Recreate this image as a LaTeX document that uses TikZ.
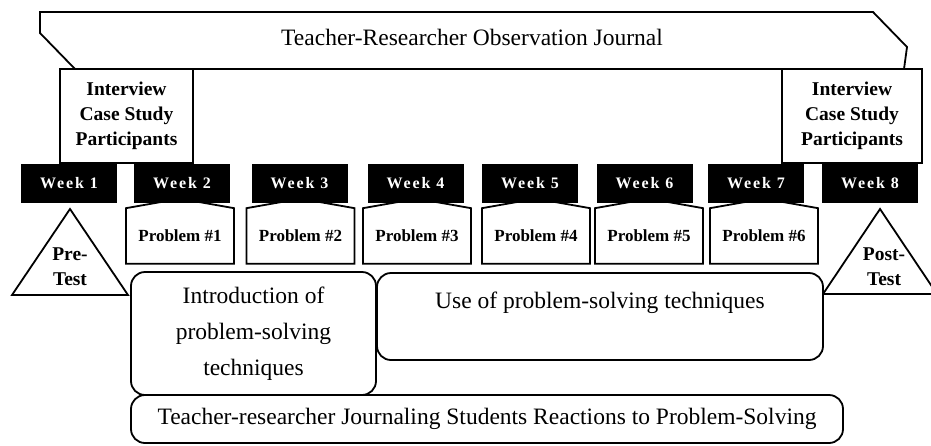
\documentclass[tikz,border=0pt]{standalone}
\usepackage{fontspec}
\setmainfont{Liberation Serif}
\usepackage{tikz}
\usetikzlibrary{shapes.symbols,shapes.geometric}
\newcommand{\bigtxt}{\fontsize{23.5}{36}\selectfont}
\newcommand{\boldtxt}{\fontsize{19.5}{25}\selectfont\bfseries}

\begin{document}
\begin{tikzpicture}[x=1pt,y=-1pt,line width=1.8pt,
		weekbox/.style={fill=black,text=white,minimum width=96,minimum height=39,inner sep=0pt,
			font=\fontsize{16}{18}\selectfont\bfseries\addfontfeature{LetterSpace=12}},
		probbox/.style={draw,signal,signal to=north,signal pointer angle=160,minimum width=108,
			minimum height=63,inner sep=0pt,font=\fontsize{17}{20}\selectfont\bfseries},
		infobox/.style={draw,fill=white,minimum height=94,inner sep=0pt,align=center,font=\boldtxt},
		softbox/.style={draw,fill=white,rounded corners=14pt,inner sep=0pt,align=center,font=\bigtxt},
		testlbl/.style={align=center,font=\boldtxt}]
	\useasboundingbox (0,0) rectangle (931,445);
	% observation journal banner
	\draw (40,12) -- (873,12) -- (907,47) -- (904,69) -- (75,69) -- (40,33) -- cycle;
	\node[font=\bigtxt] (journal) at (472,37) {Teacher-Researcher Observation Journal};
	\node[infobox,minimum width=133] (intleft) at (126.5,116) {Interview\\Case Study\\Participants};
	\node[infobox,minimum width=140] (intright) at (852,116) {Interview\\Case Study\\Participants};
	% weeks
	\node[weekbox] (w1) at (69,183.5) {Week 1};
	\node[weekbox] (w2) at (182,183.5) {Week 2};
	\node[weekbox] (w3) at (299.5,183.5) {Week 3};
	\node[weekbox] (w4) at (415.5,183.5) {Week 4};
	\node[weekbox] (w5) at (530,183.5) {Week 5};
	\node[weekbox] (w6) at (644.5,183.5) {Week 6};
	\node[weekbox] (w7) at (756,183.5) {Week 7};
	\node[weekbox] (w8) at (870,183.5) {Week 8};
	% problems
	\node[probbox] (p1) at (180,236) {Problem \#1};
	\node[probbox] (p2) at (300.5,236) {Problem \#2};
	\node[probbox] (p3) at (417,236) {Problem \#3};
	\node[probbox] (p4) at (536,236) {Problem \#4};
	\node[probbox] (p5) at (649,236) {Problem \#5};
	\node[probbox] (p6) at (764,236) {Problem \#6};
	% tests
	\draw (70,209) -- (128,295) -- (12,295) -- cycle;
	\node[testlbl] (pre) at (70,267) {Pre-\\Test};
	\draw (880,209) -- (937,294) -- (823,294) -- cycle;
	\node[testlbl] (post) at (884,267) {Post-\\Test};
	% techniques and journaling
	\node[softbox,minimum width=245,minimum height=123] (intro) at (253.5,333.5) {Introduction of\\problem-solving\\techniques};
	\node[softbox,minimum width=446,minimum height=87] (use) at (600,316.5) {};
	\node[font=\bigtxt] (uselbl) at (600,303) {Use of problem-solving techniques};
	\node[softbox,minimum width=712,minimum height=48] (react) at (487,419) {Teacher-researcher Journaling Students Reactions to Problem-Solving};
\end{tikzpicture}
\end{document}
